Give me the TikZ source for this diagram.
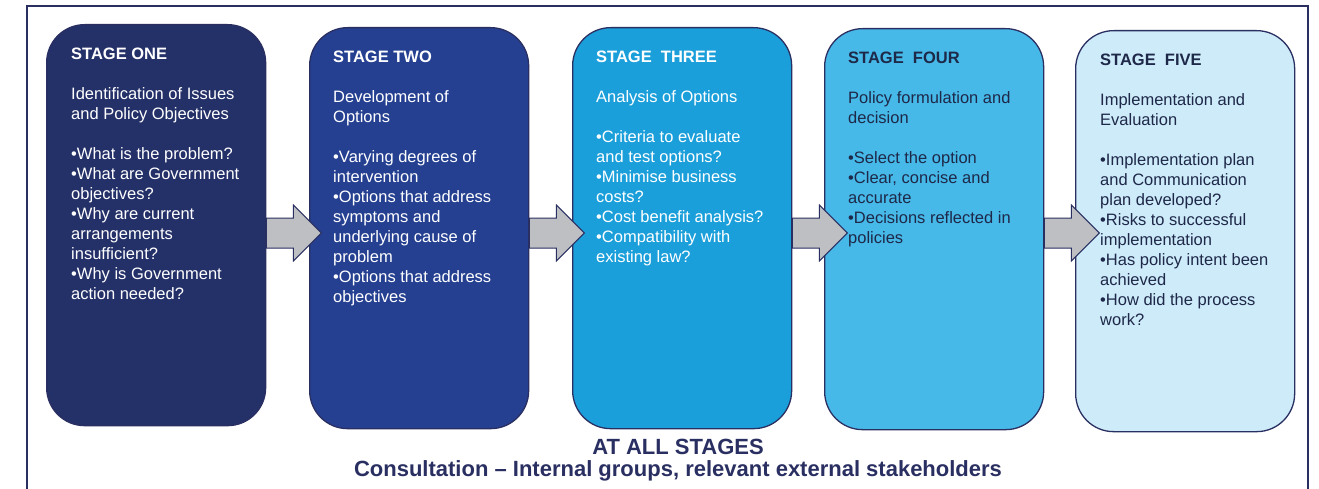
\documentclass[tikz,border=0pt]{standalone}
\usepackage{fontspec}
\setmainfont{Liberation Sans}
\definecolor{navy}{RGB}{42,47,98}
\definecolor{stageone}{RGB}{36,48,104}
\definecolor{stagetwo}{RGB}{37,64,145}
\definecolor{stagethree}{RGB}{27,159,218}
\definecolor{stagefour}{RGB}{70,185,232}
\definecolor{stagefive}{RGB}{206,235,250}
\definecolor{arrowgray}{RGB}{190,191,195}
\definecolor{darktext}{RGB}{30,40,72}
\tikzstyle{stage}=[draw=navy, line width=1.3pt, rounded corners=38pt, minimum width=219pt, minimum height=401pt, anchor=north west, inner sep=0pt]
\tikzstyle{stage text}=[anchor=north west, inner sep=0pt, align=left, font=\fontsize{16.5}{20}\selectfont]
\tikzstyle{flow}=[draw=navy, fill=arrowgray, line width=1pt, line join=miter]
\tikzstyle{footer}=[anchor=base, inner sep=0pt, navy, font=\bfseries\fontsize{22}{24}\selectfont]

\begin{document}
\begin{tikzpicture}[x=1pt,y=-1pt]
    \useasboundingbox (0,0) rectangle (1319,489);

    % Frame
    \draw[navy, line width=1.5pt] (27,489) -- (27,6) -- (1308,6) -- (1308,489);

    % Stages
    \node[stage, fill=stageone] (s1) at (46,24) {};
    \node[stage, fill=stagetwo] (s2) at (309,27) {};
    \node[stage, fill=stagethree] (s3) at (572,27) {};
    \node[stage, fill=stagefour] (s4) at (824,28) {};
    \node[stage, fill=stagefive] (s5) at (1075,30) {};

    % Texts
    \node[stage text, white] (t1) at ([shift={(25,21)}]s1.north west) {\strut\textbf{STAGE ONE}\\[20pt]
        Identification of Issues\\ and Policy Objectives\\[20pt]
        •What is the problem?\\ •What are Government\\ objectives?\\ •Why are current\\ arrangements\\ insufficient?\\
        •Why is Government\\ action needed?};
    \node[stage text, white] (t2) at ([shift={(24,21)}]s2.north west) {\strut\textbf{STAGE TWO}\\[20pt]
        Development of\\ Options\\[20pt]
        •Varying degrees of\\ intervention\\ •Options that address\\ symptoms and\\ underlying cause of\\ problem\\
        •Options that address\\ objectives};
    \node[stage text, white] (t3) at ([shift={(24,21)}]s3.north west) {\strut\textbf{STAGE~~THREE}\\[20pt]
        Analysis of Options\\[20pt]
        •Criteria to evaluate\\ and test options?\\ •Minimise business\\ costs?\\ •Cost benefit analysis?\\
        •Compatibility with\\ existing law?};
    \node[stage text, darktext] (t4) at ([shift={(24,21)}]s4.north west) {\strut\textbf{STAGE~~FOUR}\\[20pt]
        Policy formulation and\\ decision\\[20pt]
        •Select the option\\ •Clear, concise and\\ accurate\\ •Decisions reflected in\\ policies};
    \node[stage text, darktext] (t5) at ([shift={(25,21)}]s5.north west) {\strut\textbf{STAGE~~FIVE}\\[20pt]
        Implementation and\\ Evaluation\\[20pt]
        •Implementation plan\\ and Communication\\ plan developed?\\ •Risks to successful\\ implementation\\
        •Has policy intent been\\ achieved\\ •How did the process\\ work?};

    % Arrows
    \foreach \a in {s1,s2,s3,s4}
        \draw[flow] (\a.east |- 0,218) -- ++(27,0) -- ++(0,-13) -- ++(28,28) -- ++(-28,28) -- ++(0,-13) -- (\a.east |- 0,248) -- cycle;

    % Footer
    \node[footer] (all) at (678,454) {AT ALL STAGES};
    \node[footer] (consult) at (678,476) {Consultation – Internal groups, relevant external stakeholders};
\end{tikzpicture}
\end{document}
